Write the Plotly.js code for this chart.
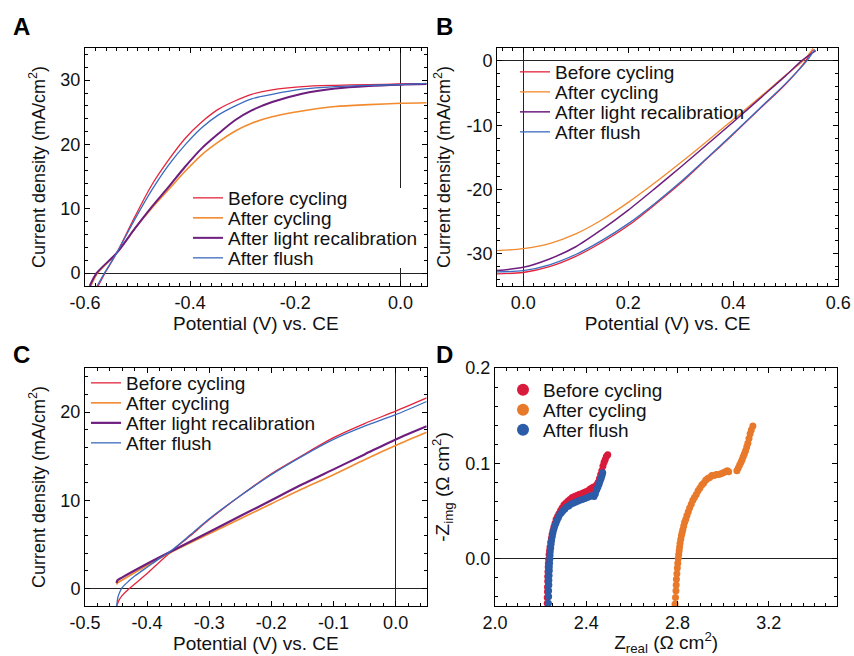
<!DOCTYPE html>
<html><head><meta charset="utf-8">
<script src="https://cdn.plot.ly/plotly-3.0.1.min.js"></script>
<style>html,body{margin:0;padding:0;background:#fff}#chart{width:854px;height:656px}</style>
</head><body><div id="chart"></div>
<script>
// ---------- names ----------
const namesABC = ['Before cycling', 'After cycling', 'After light recalibration', 'After flush'];
const namesD = ['Before cycling', 'After cycling', 'After flush'];

// ---------- Panel A (potential V vs CE, current density mA/cm2) ----------
const aBeforeV = [-0.575,-0.562,-0.540,-0.505,-0.473,-0.441,-0.410,-0.378,-0.346,-0.314,-0.283,-0.244,-0.187,-0.124,-0.060,0.000,0.050];
const aBeforeJ = [-2.0,0.0,3.1,8.8,13.7,17.6,20.9,23.5,25.5,26.8,27.8,28.5,29.0,29.2,29.3,29.4,29.45];
const aAfterV  = [-0.589,-0.576,-0.540,-0.505,-0.473,-0.441,-0.410,-0.378,-0.346,-0.314,-0.283,-0.244,-0.187,-0.124,-0.060,0.000,0.050];
const aAfterJ  = [-2.0,0.0,3.1,6.95,10.1,13.0,15.8,18.4,20.4,22.1,23.3,24.3,25.2,25.9,26.2,26.4,26.5];
const aRecalV  = [-0.591,-0.578,-0.540,-0.505,-0.473,-0.441,-0.410,-0.378,-0.346,-0.314,-0.283,-0.244,-0.187,-0.124,-0.060,0.000,0.050];
const aRecalJ  = [-2.0,0.0,3.1,6.95,10.3,13.4,16.5,19.4,21.7,23.8,25.3,26.6,27.9,28.7,29.1,29.3,29.4];
const aFlushV  = [-0.577,-0.563,-0.540,-0.505,-0.473,-0.441,-0.410,-0.378,-0.346,-0.314,-0.283,-0.244,-0.187,-0.124,-0.060,0.000,0.050];
const aFlushJ  = [-2.0,0.0,3.1,8.4,12.9,16.8,19.9,22.6,24.6,26.0,27.1,27.8,28.6,29.0,29.2,29.3,29.5];

// ---------- Panel B ----------
const bBeforeV = [-0.05,0,0.05,0.1,0.15,0.2,0.25,0.3,0.35,0.4,0.45,0.5,0.538,0.552];
const bBeforeJ = [-33.1,-32.9,-32.0,-30.4,-28.2,-25.6,-22.4,-19.0,-15.2,-11.4,-7.5,-3.6,0.0,1.9];
const bAfterV  = [-0.05,0,0.05,0.1,0.15,0.2,0.25,0.3,0.35,0.4,0.45,0.5,0.533,0.552];
const bAfterJ  = [-29.5,-29.2,-28.4,-26.9,-24.7,-22.0,-19.0,-15.8,-12.5,-9.1,-5.7,-2.2,0.0,1.9];
const bRecalV  = [-0.05,0,0.05,0.1,0.15,0.2,0.25,0.3,0.35,0.4,0.45,0.5,0.53,0.557];
const bRecalJ  = [-32.6,-32.1,-30.8,-28.9,-26.2,-23.2,-19.9,-16.5,-13.0,-9.5,-5.9,-2.3,0.0,1.6];
const bFlushV  = [-0.05,0,0.05,0.1,0.15,0.2,0.25,0.3,0.35,0.4,0.45,0.5,0.54,0.555];
const bFlushJ  = [-32.8,-32.6,-31.7,-30.1,-27.9,-25.3,-22.2,-18.8,-15.1,-11.3,-7.4,-3.5,0.0,1.8];

// ---------- Panel C ----------
const cBeforeV = [-0.449,-0.445,-0.44,-0.43,-0.42,-0.40,-0.38,-0.36,-0.33,-0.30,-0.25,-0.20,-0.15,-0.10,-0.05,0,0.05];
const cBeforeJ = [-2.0,-1.3,-0.8,-0.1,0.5,1.7,3.0,4.25,6.0,7.8,10.5,13.0,15.1,17.1,18.7,20.1,21.6];
const cAfterV  = [-0.449,-0.448,-0.44,-0.40,-0.36,-0.30,-0.25,-0.20,-0.15,-0.10,-0.05,0,0.05];
const cAfterJ  = [0.45,0.6,0.95,2.6,4.15,6.2,7.9,9.6,11.3,12.9,14.6,16.2,17.7];
const cRecalV  = [-0.449,-0.448,-0.44,-0.40,-0.36,-0.30,-0.25,-0.20,-0.15,-0.10,-0.05,0,0.05];
const cRecalJ  = [0.6,0.9,1.25,2.8,4.25,6.4,8.2,10.0,11.8,13.5,15.2,16.9,18.4];
const cFlushV  = [-0.449,-0.447,-0.444,-0.44,-0.43,-0.42,-0.40,-0.38,-0.36,-0.33,-0.30,-0.25,-0.20,-0.15,-0.10,-0.05,0,0.05];
const cFlushJ  = [-2.0,-1.0,-0.4,0.1,0.8,1.4,2.4,3.4,4.35,6.1,7.9,10.5,12.9,15.0,16.9,18.4,19.7,21.2];

// ---------- Panel D (Nyquist, Ohm cm2) ----------
const dBeforeRe = [2.229,2.229,2.230,2.230,2.231,2.231,2.232,2.233,2.234,2.235,2.237,2.239,2.241,2.244,2.247,2.250,2.254,2.258,2.263,2.268,2.274,2.280,2.287,2.294,2.302,2.310,2.319,2.328,2.338,2.348,2.358,2.368,2.378,2.388,2.398,2.408,2.417,2.425,2.432,2.438,2.445,2.452,2.458,2.463,2.468,2.473,2.478,2.483,2.488,2.494];
const dBeforeIm = [-0.047,-0.041,-0.035,-0.030,-0.024,-0.019,-0.014,-0.009,-0.005,-0.001,0.004,0.008,0.012,0.017,0.021,0.025,0.029,0.033,0.037,0.041,0.044,0.047,0.050,0.053,0.056,0.058,0.060,0.062,0.064,0.065,0.066,0.067,0.068,0.069,0.070,0.071,0.073,0.074,0.075,0.073,0.077,0.080,0.084,0.088,0.092,0.097,0.101,0.104,0.107,0.109];
const dAfterRe = [2.789,2.791,2.793,2.794,2.795,2.797,2.799,2.801,2.803,2.805,2.807,2.809,2.811,2.814,2.817,2.820,2.823,2.827,2.831,2.836,2.841,2.847,2.853,2.860,2.867,2.874,2.882,2.890,2.898,2.906,2.914,2.923,2.932,2.941,2.950,2.960,2.970,2.980,2.990,3.000,3.010,3.018,3.024,3.060,3.066,3.072,3.078,3.083,3.088,3.093,3.098,3.103,3.108,3.113,3.118,3.123,3.130];
const dAfterIm = [-0.048,-0.041,-0.034,-0.028,-0.022,-0.016,-0.010,-0.005,0.000,0.004,0.008,0.012,0.016,0.020,0.024,0.027,0.030,0.034,0.038,0.041,0.045,0.049,0.053,0.057,0.061,0.064,0.067,0.071,0.074,0.077,0.079,0.082,0.084,0.085,0.087,0.087,0.088,0.088,0.089,0.090,0.091,0.092,0.091,0.092,0.095,0.098,0.101,0.104,0.107,0.110,0.113,0.117,0.121,0.126,0.131,0.135,0.139];
const dFlushRe = [2.234,2.235,2.235,2.236,2.236,2.237,2.238,2.238,2.239,2.240,2.241,2.242,2.244,2.246,2.248,2.251,2.254,2.258,2.262,2.267,2.272,2.278,2.284,2.291,2.298,2.306,2.314,2.323,2.332,2.342,2.352,2.362,2.372,2.383,2.394,2.405,2.415,2.425,2.434,2.440,2.446,2.451,2.456,2.460,2.465,2.469,2.472];
const dFlushIm = [-0.047,-0.040,-0.034,-0.028,-0.023,-0.018,-0.013,-0.009,-0.005,-0.001,0.003,0.007,0.011,0.015,0.019,0.023,0.027,0.031,0.034,0.037,0.040,0.043,0.046,0.048,0.050,0.052,0.054,0.055,0.057,0.058,0.059,0.060,0.061,0.062,0.063,0.064,0.065,0.066,0.065,0.068,0.072,0.075,0.078,0.081,0.084,0.087,0.090];

// ---------- tick labels ----------
const aXTicks = [-0.6,-0.4,-0.2,0.0], aXText = ['-0.6','-0.4','-0.2','0.0'];
const aYTicks = [0,10,20,30],        aYText = ['0','10','20','30'];
const bXTicks = [0,0.2,0.4,0.6],     bXText = ['0.0','0.2','0.4','0.6'];
const bYTicks = [-30,-20,-10,0],     bYText = ['-30','-20','-10','0'];
const cXTicks = [-0.5,-0.4,-0.3,-0.2,-0.1,0], cXText = ['-0.5','-0.4','-0.3','-0.2','-0.1','0.0'];
const cYTicks = [0,10,20],           cYText = ['0','10','20'];
const dXTicks = [2.0,2.4,2.8,3.2],   dXText = ['2.0','2.4','2.8','3.2'];
const dYTicks = [0,0.1,0.2],         dYText = ['0.0','0.1','0.2'];

// ---------- styles ----------
const lineColors = ['#e3243b', '#f28a2e', '#6e1e7e', '#3a6bbf'];
const lineWidths = [1.3, 1.6, 2.0, 1.3];
const dotColors = ['#d81b3c', '#e8792b', '#2c5ba8'];
const FONT = 'Liberation Sans, Arial, Helvetica, sans-serif';

function lineTrace(x, y, i, xa, ya, leg, w) {
  return {x: x, y: y, type: 'scatter', mode: 'lines', name: namesABC[i],
    line: {color: lineColors[i], width: (w || lineWidths[i]), shape: 'spline', smoothing: 0.8},
    xaxis: xa, yaxis: ya, legend: leg, hoverinfo: 'skip'};
}
const traces = [
  lineTrace(aBeforeV, aBeforeJ, 0, 'x', 'y', 'legend'),
  lineTrace(aAfterV, aAfterJ, 1, 'x', 'y', 'legend'),
  lineTrace(aRecalV, aRecalJ, 2, 'x', 'y', 'legend'),
  lineTrace(aFlushV, aFlushJ, 3, 'x', 'y', 'legend'),
  lineTrace(bBeforeV, bBeforeJ, 0, 'x2', 'y2', 'legend2', 1.3),
  lineTrace(bAfterV, bAfterJ, 1, 'x2', 'y2', 'legend2', 1.3),
  lineTrace(bRecalV, bRecalJ, 2, 'x2', 'y2', 'legend2', 1.5),
  lineTrace(bFlushV, bFlushJ, 3, 'x2', 'y2', 'legend2', 1.3),
  lineTrace(cBeforeV, cBeforeJ, 0, 'x3', 'y3', 'legend3'),
  lineTrace(cAfterV, cAfterJ, 1, 'x3', 'y3', 'legend3'),
  lineTrace(cRecalV, cRecalJ, 2, 'x3', 'y3', 'legend3', 2.2),
  lineTrace(cFlushV, cFlushJ, 3, 'x3', 'y3', 'legend3')
];
[[dBeforeRe, dBeforeIm], [dAfterRe, dAfterIm], [dFlushRe, dFlushIm]].forEach(function (p, i) {
  traces.push({x: p[0], y: p[1], type: 'scatter', mode: 'markers', name: namesD[i],
    marker: {color: dotColors[i], size: 7}, xaxis: 'x4', yaxis: 'y4', legend: 'legend4', hoverinfo: 'skip'});
});

function axis(domain, anchor, range, tv, tt, minorDtick, minorTick0, title, standoff, titleSize, zero) {
  return {domain: domain, anchor: anchor, range: range, tickmode: 'array', tickvals: tv, ticktext: tt,
    ticks: 'inside', ticklen: 5, tickwidth: 1, tickcolor: '#000',
    minor: {tickmode: 'linear', tick0: minorTick0, dtick: minorDtick, ticks: 'inside', ticklen: 3, tickwidth: 1, tickcolor: '#000', showgrid: false},
    showline: true, linecolor: '#000', linewidth: 1, mirror: 'allticks', showgrid: false,
    zeroline: zero, zerolinecolor: '#222', zerolinewidth: 1.2,
    tickfont: {family: FONT, size: 18, color: '#111'},
    title: {text: title, font: {family: FONT, size: titleSize, color: '#111'}, standoff: standoff},
    fixedrange: true};
}
const W = 854, H = 656;
const colL = [85 / W, 426.7 / W], colR = [497 / W, 838.3 / W], colRD = [495 / W, 837.3 / W];
const rowT = [1 - 286 / H, 1 - 48 / H], rowB = [1 - 606 / H, 1 - 368 / H];
const potTitle = 'Potential (V) vs. CE';
const curTitle = 'Current density (mA/cm<sup>2</sup>)';
const legFont = {family: FONT, size: 19, color: '#111'};

const layout = {
  width: W, height: H, margin: {l: 0, r: 0, t: 0, b: 0}, paper_bgcolor: '#fff', plot_bgcolor: '#fff',
  font: {family: FONT, color: '#111'}, showlegend: true,
  xaxis: axis(colL, 'y', [-0.6, 0.05], aXTicks, aXText, 0.02, 0, potTitle, 4, 19, true),
  yaxis: axis(rowT, 'x', [-2, 35], aYTicks, aYText, 2, 0, curTitle, 10, 18, true),
  xaxis2: axis(colR, 'y2', [-0.05, 0.6], bXTicks, bXText, 0.02, 0, potTitle, 4, 19, true),
  yaxis2: axis(rowT, 'x2', [-35, 2], bYTicks, bYText, 2, 0, curTitle, 11, 18, true),
  xaxis3: axis(colL, 'y3', [-0.5, 0.05], cXTicks, cXText, 0.02, 0, potTitle, 4, 19, true),
  yaxis3: axis(rowB, 'x3', [-2, 25], cYTicks, cYText, 2, 0, curTitle, 10, 18, true),
  xaxis4: axis(colRD, 'y4', [2.0, 3.5], dXTicks, dXText, 0.05, 2.0, 'Z<sub>real</sub> (Ω cm<sup>2</sup>)', 4, 19, false),
  yaxis4: axis(rowB, 'x4', [-0.05, 0.2], dYTicks, dYText, 0.02, 0, '-Z<sub>img</sub> (Ω cm<sup>2</sup>)', 10, 19, true),
  legend:  {x: 188 / W, y: 1 - 179 / H, xanchor: 'left', yanchor: 'top', bgcolor: '#fff', borderwidth: 0, font: legFont},
  legend2: {x: 515 / W, y: 1 - 53 / H, xanchor: 'left', yanchor: 'top', bgcolor: 'rgba(0,0,0,0)', borderwidth: 0, font: legFont},
  legend3: {x: 86 / W, y: 1 - 364 / H, xanchor: 'left', yanchor: 'top', bgcolor: 'rgba(0,0,0,0)', borderwidth: 0, font: legFont},
  legend4: {x: 503 / W, y: 1 - 371 / H, xanchor: 'left', yanchor: 'top', bgcolor: 'rgba(0,0,0,0)', borderwidth: 0, itemsizing: 'constant', font: legFont},
  annotations: [['A', 21, 26], ['B', 444.5, 26], ['C', 21, 354], ['D', 444.5, 354]].map(function (a) {
    return {text: '<b>' + a[0] + '</b>', xref: 'paper', yref: 'paper', x: a[1] / W, y: 1 - a[2] / H,
      xanchor: 'center', yanchor: 'middle', showarrow: false, font: {family: FONT, size: 24, color: '#000'}};
  })
};

// Pack legend rows 20 px apart (the reference uses tight line spacing).
function tightenLegends(gd, rowPx) {
  const groups = Array.prototype.slice.call(gd.querySelectorAll('g.infolayer > g')).filter(function (g) {
    return /^legend\d*$/.test(g.getAttribute('class') || '');
  });
  groups.forEach(function (leg) {
    const items = Array.prototype.slice.call(leg.querySelectorAll('g.traces'));
    if (items.length < 2) return;
    const pos = items.map(function (g) {
      const m = /translate\(\s*([-\d.eE]+)[ ,]+([-\d.eE]+)\s*\)/.exec(g.getAttribute('transform') || '');
      return m ? [parseFloat(m[1]), parseFloat(m[2])] : [0, 0];
    });
    const y0 = pos[0][1];
    items.forEach(function (g, i) { g.setAttribute('transform', 'translate(' + pos[i][0] + ',' + (y0 + i * rowPx) + ')'); });
    const bg = leg.querySelector('rect.bg');
    if (bg) {
      bg.setAttribute('y', y0 - 10);
      bg.setAttribute('height', (items.length - 1) * rowPx + 20);
    }
  });
}

Plotly.newPlot('chart', traces, layout, {staticPlot: true, displayModeBar: false}).then(function (gd) {
  tightenLegends(gd, 20);
  gd.on && gd.on('plotly_afterplot', function () { tightenLegends(gd, 20); });
  setTimeout(function () { tightenLegends(gd, 20); }, 30);
});
</script>
</body></html>
